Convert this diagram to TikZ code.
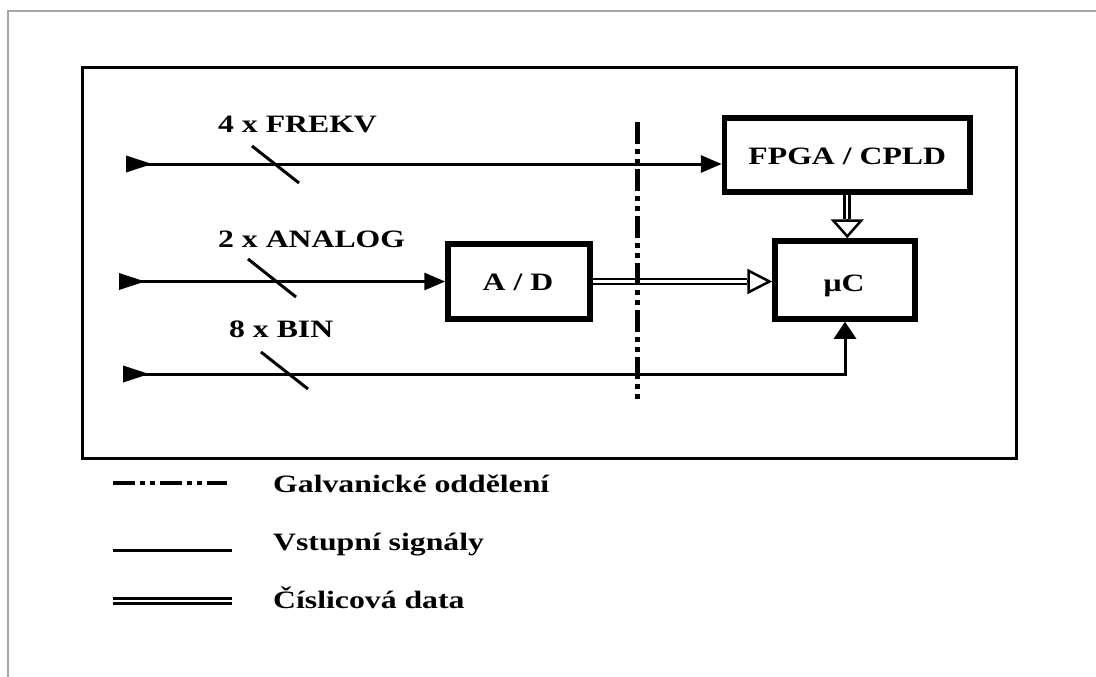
\documentclass[tikz,border=0pt]{standalone}
\usepackage{fontspec}
\setmainfont{Liberation Serif}[FakeStretch=1.27]
\usetikzlibrary{arrows.meta}
\begin{document}
\begin{tikzpicture}[x=1pt,y=-1pt,
  framegray/.style={draw=black!35, line width=1.5pt},
  box/.style={draw, line width=5.5pt, rectangle, inner sep=0pt},
  lbl/.style={font=\fontsize{25}{28}\selectfont\bfseries, inner sep=0pt, anchor=base west},
  sig/.style={line width=3pt},
  tip/.style={-{Triangle[length=21pt,width=17pt]}},
  dbl/.style={double, line width=2.8pt, double distance=2.2pt},
  sepline/.style={line width=5pt, dash pattern=on 22pt off 5pt on 5pt off 5pt on 5pt off 5pt}
]
\useasboundingbox (0,0) rectangle (1096,677);
\draw[framegray] (1096,11) -- (8,11) -- (8,677);
\draw[line width=3pt] (82.5,68) rectangle (1016.5,458.5);

% blocks
\node[box, minimum width=245.5pt, minimum height=74pt] (fpga) at (847.25,155) {};
\node[box, minimum width=140pt, minimum height=78pt] (uc) at (845,280) {};
\node[box, minimum width=142pt, minimum height=75pt] (ad) at (519,281.5) {};
\node[lbl, anchor=base] (fpgat) at (847.25,164) {FPGA / CPLD};
\node[lbl, anchor=base] (uct) at (844,291) {μC};
\node[lbl, anchor=base] (adt) at (518,290) {A / D};

% input signals
\coordinate (f0) at (126,164);
\coordinate (a0) at (119,281.5);
\coordinate (b0) at (123,374);
\foreach \c in {f0,a0,b0}
  \fill (\c) ++(0,-8.5) -- ++(26,8.5) -- ++(-26,8.5) -- cycle;
\draw[sig, tip] (f0) -- (f0 -| fpga.west);
\draw[sig, tip] (a0) -- (ad.west);
\draw[sig, -{Triangle[length=17pt,width=22pt]}] (b0) -| (uc.south);
\draw[sig] (252,146) -- (299,183);
\draw[sig] (248,259) -- (296,297);
\draw[sig] (261,352) -- (308,389);
\node[lbl] (lf) at (218,132) {4 x FREKV};
\node[lbl] (la) at (218,247) {2 x ANALOG};
\node[lbl] (lb) at (229,337) {8 x BIN};

% digital data
\coordinate (hb) at (747,281.5);
\draw[dbl] (ad.east) -- (hb);
\draw[line width=2.5pt, -{Triangle[open, fill=white, length=25pt, width=25pt]}] (hb) -- (hb -| uc.west);
\coordinate (vb) at (847.25,219);
\draw[dbl] (fpga.south) -- (vb);
\draw[line width=2.5pt, -{Triangle[open, fill=white, length=19pt, width=33pt]}] (vb) -- (vb |- uc.north);

% galvanic isolation
\draw[sepline] (637,122) -- (637,403);

% legend
\draw[sepline, line width=4.5pt] (113,483) -- (227,483);
\draw[sig] (113,550) -- (232,550);
\draw[dbl] (113,601) -- (232,601);
\node[lbl] (l1) at (273,492) {Galvanické oddělení};
\node[lbl] (l2) at (273,550) {Vstupní signály};
\node[lbl] (l3) at (273,608) {Číslicová data};
\end{tikzpicture}
\end{document}
